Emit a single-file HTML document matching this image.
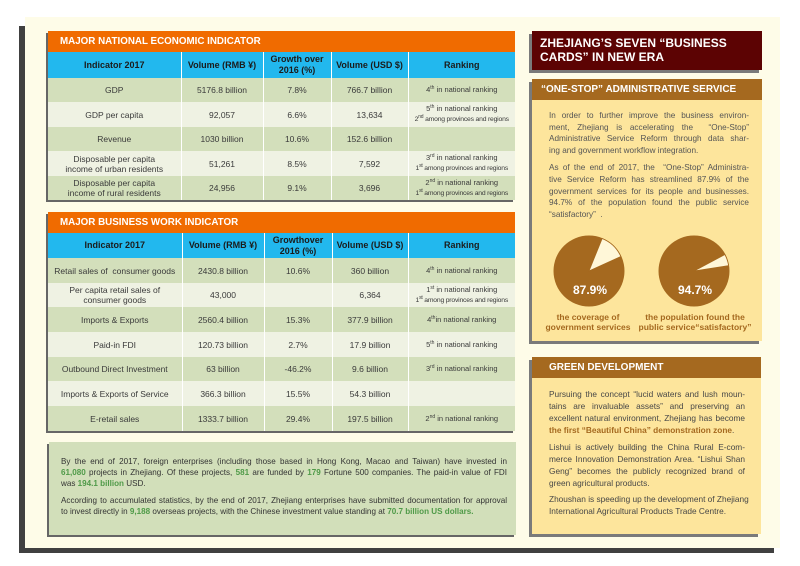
<!DOCTYPE html>
<html><head><meta charset="utf-8">
<style>
*{margin:0;padding:0;box-sizing:border-box}
body{width:800px;height:566px;position:relative;overflow:hidden;background:#fff;font-family:"Liberation Sans",Arial,sans-serif}
.a{position:absolute}
.tbl{left:48px;width:467px;box-shadow:-2px 2px 0 #666;background:#eff2e3}
.tt{height:21px;background:#f06b00;color:#fff;font-weight:bold;font-size:9.8px;line-height:21px;padding-left:12px;white-space:nowrap}
table{border-collapse:collapse;table-layout:fixed;width:467px}
th,td{border-left:1px solid #fff;text-align:center;padding:0;white-space:nowrap;overflow:visible}
th:first-child,td:first-child{border-left:none}
th{background:#22b8ee;color:#1b1b1b;font-size:9px;font-weight:bold;line-height:11px}
td{font-size:8.5px;color:#3a3a3a;line-height:10px}
tr.g td{background:#d3dfbb}
tr.l td{background:#eff2e3}
td.r{font-size:7.5px}
td.r span{font-size:6.8px;letter-spacing:-0.2px}
sup{font-size:5px;vertical-align:3px;line-height:0}
.ln{position:absolute;white-space:nowrap;height:12px;line-height:12px;text-align:justify;text-align-last:justify}
.lf{text-align:left;text-align-last:left}
.q{font-size:8.1px;color:#333;left:61px;width:446px}
.q b{color:#4f9a48}
.o{font-size:8.2px;color:#555;left:549px;width:200px}
.gr{font-size:8.3px;color:#474747;left:549px;width:196px}
.gr b{color:#a5691f}
.box{background:#fde59c;box-shadow:-3px 3px 0 #7a7a7a}
.bh{height:21px;background:#a5691f;color:#fff;font-weight:bold;font-size:10px;line-height:21px;white-space:nowrap}
.cap{font-size:8.5px;font-weight:bold;color:#a5691f;text-align:center;white-space:nowrap;line-height:10px}
.pl{font-size:12px;font-weight:bold;color:#fff;text-align:center;width:60px;line-height:14px}
</style></head>
<body>
<div class="a" style="left:25px;top:17px;width:755px;height:531px;background:#fefce8"></div>
<div class="a" style="left:19px;top:26px;width:6px;height:527px;background:#404040"></div>
<div class="a" style="left:19px;top:548px;width:755px;height:5px;background:#404040"></div>

<div class="a tbl" style="top:31px">
<div class="tt">MAJOR NATIONAL ECONOMIC INDICATOR</div>
<table>
<colgroup><col style="width:133px"><col style="width:82px"><col style="width:68px"><col style="width:77px"><col style="width:107px"></colgroup>
<tr style="height:26px"><th>Indicator 2017</th><th>Volume (RMB ¥)</th><th>Growth over<br>2016 (%)</th><th>Volume (USD $)</th><th>Ranking</th></tr>
<tr class="g" style="height:24px"><td>GDP</td><td>5176.8 billion</td><td>7.8%</td><td>766.7 billion</td><td class="r">4<sup>th</sup> in national ranking</td></tr>
<tr class="l" style="height:25px"><td>GDP per capita</td><td>92,057</td><td>6.6%</td><td>13,634</td><td class="r">5<sup>th</sup> in national ranking<br><span>2<sup>nd</sup> among provinces and regions</span></td></tr>
<tr class="g" style="height:24px"><td>Revenue</td><td>1030 billion</td><td>10.6%</td><td>152.6 billion</td><td class="r"></td></tr>
<tr class="l" style="height:25px"><td>Disposable per capita<br>income of urban residents</td><td>51,261</td><td>8.5%</td><td>7,592</td><td class="r">3<sup>rd</sup> in national ranking<br><span>1<sup>st</sup> among provinces and regions</span></td></tr>
<tr class="g" style="height:24px"><td>Disposable per capita<br>income of rural residents</td><td>24,956</td><td>9.1%</td><td>3,696</td><td class="r">2<sup>nd</sup> in national ranking<br><span>1<sup>st</sup> among provinces and regions</span></td></tr>
</table></div>

<div class="a tbl" style="top:212px">
<div class="tt">MAJOR BUSINESS WORK INDICATOR</div>
<table>
<colgroup><col style="width:134px"><col style="width:82px"><col style="width:68px"><col style="width:76px"><col style="width:107px"></colgroup>
<tr style="height:25px"><th>Indicator 2017</th><th>Volume (RMB ¥)</th><th>Growthover<br>2016 (%)</th><th>Volume (USD $)</th><th>Ranking</th></tr>
<tr class="g" style="height:25px"><td>Retail sales of &nbsp;consumer goods</td><td>2430.8 billion</td><td>10.6%</td><td>360 billion</td><td class="r">4<sup>th</sup> in national ranking</td></tr>
<tr class="l" style="height:24px"><td>Per capita retail sales of<br>consumer goods</td><td>43,000</td><td></td><td>6,364</td><td class="r">1<sup>st</sup> in national ranking<br><span>1<sup>st</sup> among provinces and regions</span></td></tr>
<tr class="g" style="height:25px"><td>Imports &amp; Exports</td><td>2560.4 billion</td><td>15.3%</td><td>377.9 billion</td><td class="r">4<sup>th</sup>in national ranking</td></tr>
<tr class="l" style="height:25px"><td>Paid-in FDI</td><td>120.73 billion</td><td>2.7%</td><td>17.9 billion</td><td class="r">5<sup>th</sup> in national ranking</td></tr>
<tr class="g" style="height:24px"><td>Outbound Direct Investment</td><td>63 billion</td><td>-46.2%</td><td>9.6 billion</td><td class="r">3<sup>rd</sup> in national ranking</td></tr>
<tr class="l" style="height:25px"><td>Imports &amp; Exports of Service</td><td>366.3 billion</td><td>15.5%</td><td>54.3 billion</td><td class="r"></td></tr>
<tr class="g" style="height:25px"><td>E-retail sales</td><td>1333.7 billion</td><td>29.4%</td><td>197.5 billion</td><td class="r">2<sup>nd</sup> in national ranking</td></tr>
</table></div>

<div class="a" style="left:49px;top:442px;width:467px;height:93px;background:#d2dfba;box-shadow:-2px 2px 0 #666"></div>
<div class="ln q" style="top:456px">By the end of 2017, foreign enterprises (including those based in Hong Kong, Macao and Taiwan) have invested in</div>
<div class="ln q" style="top:467px"><b>61,080</b> projects in Zhejiang. Of these projects, <b>581</b> are funded by <b>179</b> Fortune 500 companies. The paid-in value of FDI</div>
<div class="ln q lf" style="top:478px">was <b>194.1 billion</b> USD.</div>
<div class="ln q" style="top:495px">According to accumulated statistics, by the end of 2017, Zhejiang enterprises have submitted documentation for approval</div>
<div class="ln q lf" style="top:506px">to invest directly in <b>9,188</b> overseas projects, with the Chinese investment value standing at <b>70.7 billion US dollars.</b></div>

<div class="a" style="left:532px;top:31px;width:230px;height:39px;background:#5c0303;box-shadow:-3px 3px 0 #7a7a7a;color:#fff;font-weight:bold;font-size:12px;line-height:14px;padding:5px 0 0 8px;white-space:nowrap">ZHEJIANG’S SEVEN “BUSINESS<br>CARDS” IN NEW ERA</div>

<div class="a box" style="left:532px;top:79px;width:230px;height:262px">
<div class="bh" style="padding-left:9px">“ONE-STOP” ADMINISTRATIVE SERVICE</div>
</div>
<div class="ln o" style="top:110px">In order to further improve the business environ-</div>
<div class="ln o" style="top:121.7px">ment, Zhejiang is accelerating the &nbsp;“One-Stop”</div>
<div class="ln o" style="top:133.3px">Administrative Service Reform through data shar-</div>
<div class="ln o lf" style="top:145px">ing and government workflow integration.</div>
<div class="ln o" style="top:162.3px">As of the end of 2017, the &nbsp;“One-Stop” Administra-</div>
<div class="ln o" style="top:174px">tive Service Reform has streamlined 87.9% of the</div>
<div class="ln o" style="top:185.7px">government services for its people and businesses.</div>
<div class="ln o" style="top:197.3px">94.7% of the population found the public service</div>
<div class="ln o lf" style="top:209px">“satisfactory” &nbsp;.</div>

<svg class="a" style="left:0;top:0" width="800" height="566">
<circle cx="589" cy="271" r="35.5" fill="#a5691f"/>
<path d="M589,271 L602.11,238.55 A35,35 0 0,1 620.87,256.54 Z" fill="#fff7d8" stroke="#a5691f" stroke-width="0.8"/>
<circle cx="694" cy="271" r="35.5" fill="#a5691f"/>
<path d="M694,271 L724.9,254.57 A35,35 0 0,1 728.58,265.59 Z" fill="#fff7d8" stroke="#a5691f" stroke-width="0.8"/>
</svg>
<div class="a pl" style="left:560px;top:283px">87.9%</div>
<div class="a pl" style="left:665px;top:283px">94.7%</div>
<div class="a cap" style="left:528px;top:312px;width:120px">the coverage of</div>
<div class="a cap" style="left:528px;top:322px;width:120px">government services</div>
<div class="a cap" style="left:630px;top:312px;width:130px">the population found the</div>
<div class="a cap" style="left:630px;top:322px;width:130px">public service“satisfactory”</div>

<div class="a box" style="left:532px;top:357px;width:229px;height:177px">
<div class="bh" style="padding-left:17px">GREEN DEVELOPMENT</div>
</div>
<div class="ln gr" style="top:388px">Pursuing the concept “lucid waters and lush moun-</div>
<div class="ln gr" style="top:400px">tains are invaluable assets” and preserving an</div>
<div class="ln gr" style="top:412px">excellent natural environment, Zhejiang has become</div>
<div class="ln gr lf" style="top:424px"><b>the first “Beautiful China” demonstration zone</b>.</div>
<div class="ln gr" style="top:441px">Lishui is actively building the China Rural E-com-</div>
<div class="ln gr" style="top:453px">merce Innovation Demonstration Area. “Lishui Shan</div>
<div class="ln gr" style="top:465px">Geng” becomes the publicly recognized brand of</div>
<div class="ln gr lf" style="top:477px">green agricultural products.</div>
<div class="ln gr" style="top:493px">Zhoushan is speeding up the development of Zhejiang</div>
<div class="ln gr lf" style="top:505px">International Agricultural Products Trade Centre.</div>
</body></html>
